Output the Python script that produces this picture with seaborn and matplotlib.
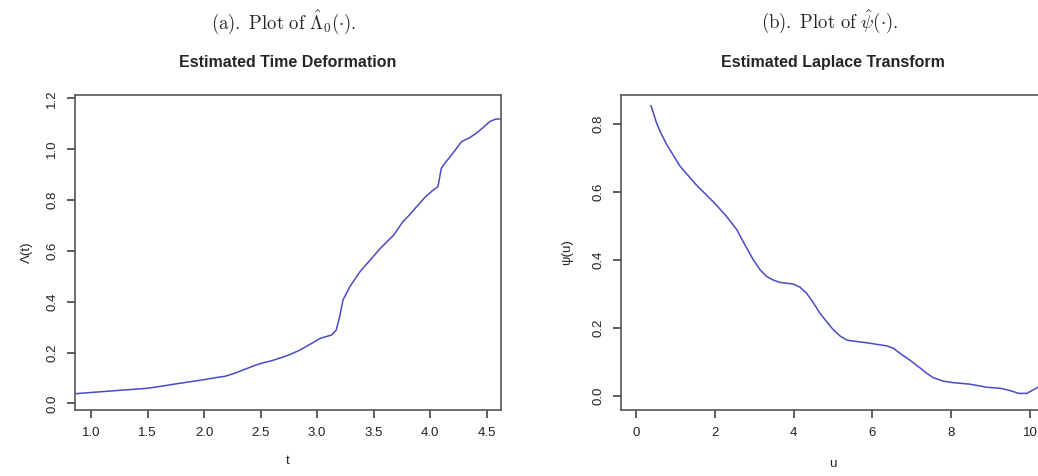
import matplotlib
matplotlib.use("Agg")
import matplotlib.pyplot as plt
import seaborn as sns
import numpy as np
import pandas as pd

# ---- data ----
t_vals = [0.858, 1.00, 1.153, 1.30, 1.49, 1.60, 1.74, 1.86, 1.98, 2.10, 2.19, 2.28, 2.36, 2.43, 2.50, 2.60,
          2.69, 2.76, 2.85, 2.94, 3.03, 3.09, 3.13, 3.17, 3.20, 3.23, 3.29, 3.38, 3.47, 3.56, 3.62,
          3.68, 3.76, 3.82, 3.87, 3.96, 4.02, 4.07, 4.10, 4.14, 4.18, 4.28, 4.35, 4.41, 4.47, 4.53, 4.58, 4.628]
lam_vals = [0.038, 0.043, 0.048, 0.053, 0.059, 0.066, 0.076, 0.084, 0.092, 0.101, 0.107, 0.120, 0.134, 0.146, 0.157, 0.168,
            0.181, 0.192, 0.210, 0.233, 0.256, 0.264, 0.269, 0.289, 0.341, 0.407, 0.459, 0.518, 0.564, 0.610, 0.636,
            0.663, 0.715, 0.742, 0.768, 0.813, 0.836, 0.853, 0.925, 0.950, 0.971, 1.030, 1.045, 1.063, 1.085, 1.109, 1.118, 1.119]

u_vals = [0.38, 0.525, 0.61, 0.78, 1.12, 1.54, 2.00, 2.30, 2.56, 2.72, 2.98, 3.15, 3.32, 3.48, 3.65, 3.99,
          4.16, 4.33, 4.50, 4.67, 4.84, 5.01, 5.18, 5.35, 5.52, 5.86, 6.36, 6.53, 6.70, 6.95, 7.22, 7.38,
          7.55, 7.80, 8.02, 8.48, 8.90, 9.24, 9.50, 9.71, 9.92, 10.2, 10.45]
psi_vals = [0.855, 0.803, 0.779, 0.740, 0.676, 0.620, 0.567, 0.528, 0.489, 0.454, 0.400, 0.371, 0.351, 0.341, 0.334, 0.329,
            0.320, 0.302, 0.274, 0.243, 0.218, 0.194, 0.176, 0.164, 0.161, 0.156, 0.147, 0.140, 0.125, 0.105, 0.081, 0.066,
            0.053, 0.043, 0.039, 0.034, 0.025, 0.022, 0.015, 0.007, 0.007, 0.025, 0.040]

left_xticks = [1.0, 1.5, 2.0, 2.5, 3.0, 3.5, 4.0, 4.5]
left_yticks = [0.0, 0.2, 0.4, 0.6, 0.8, 1.0, 1.2]
right_xticks = [0, 2, 4, 6, 8, 10]
right_yticks = [0.0, 0.2, 0.4, 0.6, 0.8]

sns.set_style("white")
plt.rcParams['font.family'] = ['Liberation Sans', 'DejaVu Sans']
plt.rcParams['mathtext.fontset'] = 'cm'

W, H = 1038, 476
fig = plt.figure(figsize=(W / 100, H / 100), dpi=100)

line_color = '#4a4ac4'
spine_color = '#555555'


def make_axes(px_left, px_right, px_top, px_bottom):
    return fig.add_axes([px_left / W, 1 - px_bottom / H, (px_right - px_left) / W, (px_bottom - px_top) / H])


def style(ax, xticks, yticks, xfmt, yfmt):
    for s in ax.spines.values():
        s.set_color(spine_color)
        s.set_linewidth(1.2)
    ax.set_xticks(xticks)
    ax.set_yticks(yticks)
    ax.set_xticklabels([xfmt.format(v) for v in xticks])
    ax.set_yticklabels([yfmt.format(v) for v in yticks], rotation=90, va='center')
    ax.tick_params(axis='both', direction='out', length=6, width=1.1, color='#333333',
                   labelsize=9.5, labelcolor='#222222', pad=6, bottom=True, left=True)


df_a = pd.DataFrame({'t': t_vals, 'lam': lam_vals})
df_b = pd.DataFrame({'u': u_vals, 'psi': psi_vals})

ax1 = make_axes(75, 501, 95, 410)
sns.lineplot(data=df_a, x='t', y='lam', ax=ax1, color=line_color, linewidth=1.1, sort=False)
ax1.set_xlim(0.858, 4.628)
ax1.set_ylim(-0.026, 1.213)
style(ax1, left_xticks, left_yticks, "{:.1f}", "{:.1f}")
ax1.set_xlabel("t", fontsize=9.5, labelpad=12, color='#222222')
ax1.set_ylabel("Λ(t)", fontsize=9.5, labelpad=10, color='#222222')
ax1.set_title("Estimated Time Deformation", fontsize=11.5, fontweight='bold', pad=20)

ax2 = make_axes(621, 1045, 95, 410)
sns.lineplot(data=df_b, x='u', y='psi', ax=ax2, color=line_color, linewidth=1.1, sort=False)
ax2.set_xlim(-0.38, 10.38)
ax2.set_ylim(-0.042, 0.886)
style(ax2, right_xticks, right_yticks, "{:d}", "{:.1f}")
ax2.set_xlabel("u", fontsize=9.5, labelpad=14, color='#222222')
ax2.set_ylabel("ψ(u)", fontsize=9.5, labelpad=14, color='#222222')
ax2.set_title("Estimated Laplace Transform", fontsize=11.5, fontweight='bold', pad=20)

fig.text(284 / W, 1 - 22 / H, r"$\mathrm{(a).\ Plot\ of\ }\hat{\Lambda}_0(\cdot).$",
         ha='center', va='center', fontsize=13.5)
fig.text(830 / W, 1 - 22 / H, r"$\mathrm{(b).\ Plot\ of\ }\hat{\psi}(\cdot).$",
         ha='center', va='center', fontsize=13.5)

fig.savefig("out.png", dpi=100)
